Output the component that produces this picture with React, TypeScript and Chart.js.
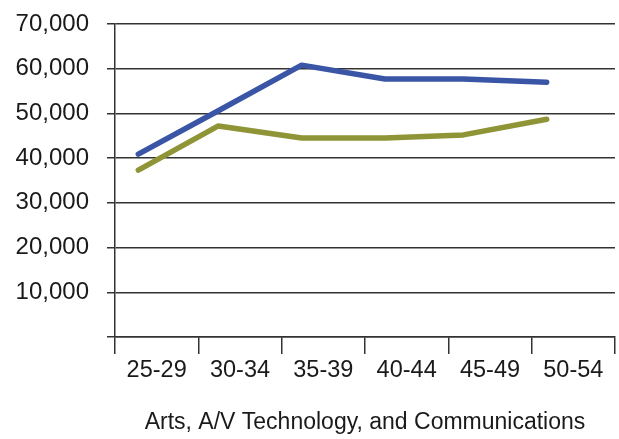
import React, { useEffect, useRef } from "react";
import { Chart, registerables } from "chart.js";

Chart.register(...registerables);

const ageGroups = ["25-29", "30-34", "35-39", "40-44", "45-49", "50-54"];
// position of each plotted point on a numeric age axis (25..55)
const pointAges = [26.4, 31.2, 36.2, 41.2, 45.9, 50.9];
const seriesBlue = [40900, 50600, 60800, 57700, 57700, 57000];
const seriesOlive = [37300, 47200, 44500, 44500, 45200, 48700];
const yTicks = [0, 10000, 20000, 30000, 40000, 50000, 60000, 70000];
const xTitle = "Arts, A/V Technology, and Communications";

const FONT = "'Liberation Sans', Arial, sans-serif";

export default function App() {
  const ref = useRef<HTMLCanvasElement | null>(null);
  useEffect(() => {
    if (!ref.current) return;
    const toPts = (vals: number[]) => vals.map((v, i) => ({ x: pointAges[i], y: v }));
    const chart = new Chart(ref.current, {
      type: "line",
      data: {
        labels: ageGroups,
        datasets: [
          {
            data: toPts(seriesBlue),
            xAxisID: "xv",
            borderColor: "#3A55A5",
            borderWidth: 5.5,
            pointRadius: 0,
            borderCapStyle: "round",
            borderJoinStyle: "round",
            tension: 0,
          },
          {
            data: toPts(seriesOlive),
            xAxisID: "xv",
            borderColor: "#8F9537",
            borderWidth: 5.5,
            pointRadius: 0,
            borderCapStyle: "round",
            borderJoinStyle: "round",
            tension: 0,
          },
        ],
      },
      options: {
        responsive: false,
        animation: false,
        layout: { padding: { top: 24, right: 4, left: 0, bottom: 0 } },
        plugins: { legend: { display: false }, tooltip: { enabled: false } },
        scales: {
          xv: {
            type: "linear",
            display: false,
            min: 25,
            max: 55,
          },
          x: {
            type: "category",
            offset: true,
            afterFit: (s: any) => {
              s.height = 102;
              s.paddingLeft = 0;
              s.paddingRight = 0;
            },
            grid: {
              display: true,
              offset: true,
              drawOnChartArea: false,
              drawTicks: true,
              tickLength: 17,
              color: "#333",
              lineWidth: 1.5,
            },
            border: { display: true, color: "#333", width: 1.5 },
            ticks: {
              color: "#1a1a1a",
              font: { family: FONT, size: 23.5 },
              padding: 2,
              maxRotation: 0,
              autoSkip: false,
            },
            title: {
              display: true,
              text: xTitle,
              color: "#1a1a1a",
              font: { family: FONT, size: 23 },
              padding: { top: 0, bottom: 3 },
            },
          },
          y: {
            type: "linear",
            min: 0,
            max: 70000,
            afterFit: (s: any) => {
              s.width = 115;
              s.paddingTop = 0;
              s.paddingBottom = 0;
            },
            afterBuildTicks: (s: any) => {
              s.ticks = yTicks.map((v) => ({ value: v }));
            },
            grid: {
              color: "#333",
              lineWidth: 1.5,
              tickLength: 8,
              drawTicks: true,
            },
            border: { display: true, color: "#333", width: 1.5 },
            ticks: {
              color: "#1a1a1a",
              font: { family: FONT, size: 24 },
              padding: 18,
              callback: (v: any) => (Number(v) === 0 ? "" : Number(v).toLocaleString("en-US")),
            },
          },
        },
      },
    } as any);
    return () => chart.destroy();
  }, []);
  return (
    <div style={{ position: "absolute", left: 0, top: 0, width: 619, height: 439, background: "#fff" }}>
      <canvas ref={ref} width={619} height={439} />
    </div>
  );
}
